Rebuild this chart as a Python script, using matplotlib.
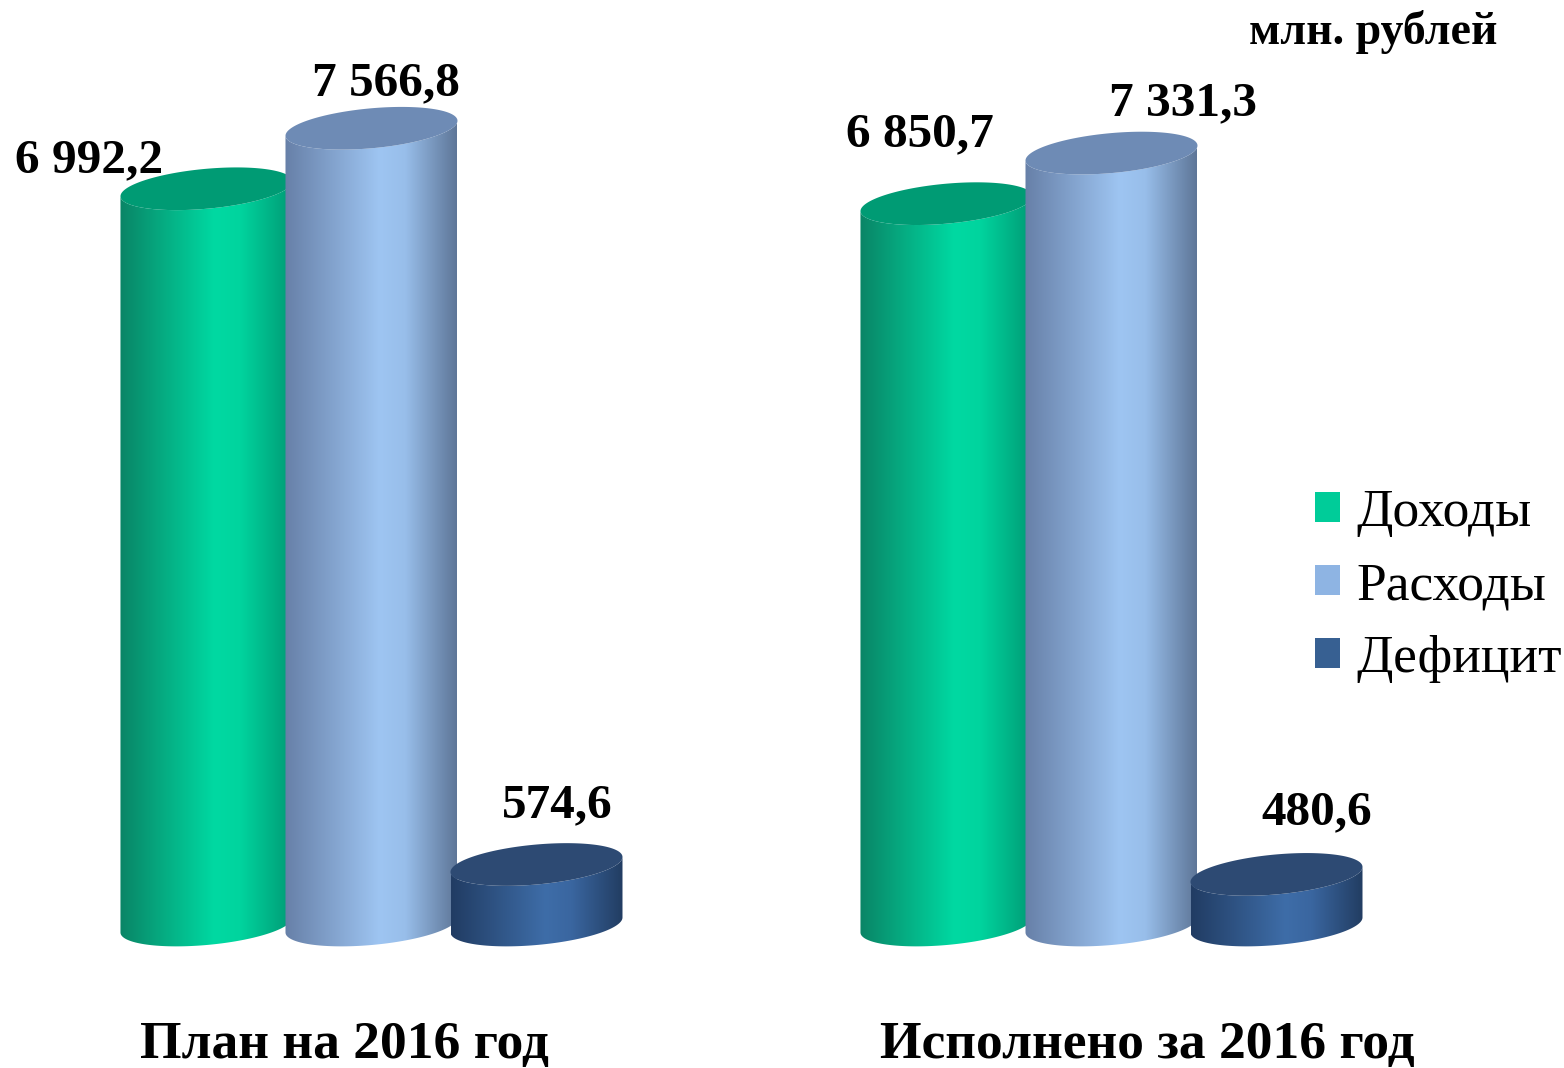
import numpy as np
import matplotlib
matplotlib.use("Agg")
import matplotlib.pyplot as plt
from matplotlib.path import Path
from matplotlib.patches import PathPatch, Patch
from matplotlib.colors import LinearSegmentedColormap
import matplotlib.transforms as mtransforms

# ---------------- data ----------------
categories = ["План на 2016 год", "Исполнено за 2016 год"]
series = ["Доходы", "Расходы", "Дефицит"]
dohody = [6992.2, 6850.7]
rashody = [7566.8, 7331.3]
deficit = [574.6, 480.6]
value_labels = [["6 992,2", "7 566,8", "574,6"],
                ["6 850,7", "7 331,3", "480,6"]]
unit_label = "млн. рублей"

# ---------------- style ----------------
legend_colors = ["#00CC99", "#8EB4E3", "#376092"]
body_grad = [
    ["#0A8566", "#00D9A2", "#00D49E", "#009B75"],
    ["#6780A8", "#9EC5F2", "#98BEEA", "#5E7698"],
    ["#213C63", "#3E6DA8", "#3A66A0", "#223D62"],
]
top_colors = ["#009B74", "#6E8BB5", "#2D4A73"]

W_PX, H_PX = 1564, 1068
fig = plt.figure(figsize=(W_PX / 100, H_PX / 100), dpi=100)
ax = fig.add_axes([0, 0, 1, 1])
XL = (-0.502, 1.6115)
YL = (-1358, 8785)
ax.set_xlim(*XL)
ax.set_ylim(*YL)
ax.axis("off")

px_x = W_PX / (XL[1] - XL[0])      # pixels per x unit
px_y = H_PX / (YL[1] - YL[0])      # pixels per y unit

bar_w = 0.2324
bar_off = 0.223
b_px = 20.0                 # ellipse semi minor axis in px
slope_px = 0.087            # tilt (px up per px right)
b = b_px / px_y
shear = slope_px * px_x / px_y   # y units per x unit

values = [dohody, rashody, deficit]


def ellipse_pts(cx, yc, a, t):
    x = cx + a * np.cos(t)
    y = yc + b * np.sin(t) + shear * (a * np.cos(t))
    return x, y


def cylinder(cx, height, k, z):
    a = bar_w / 2
    t_bot = np.linspace(np.pi, 2 * np.pi, 80)
    xb, yb = ellipse_pts(cx, 0, a, t_bot)
    t_top = np.linspace(2 * np.pi, np.pi, 80)
    xt, yt = ellipse_pts(cx, height, a, t_top)
    xs = np.concatenate([xb, xt, [xb[0]]])
    ys = np.concatenate([yb, yt, [yb[0]]])
    verts = np.column_stack([xs, ys])
    codes = [Path.MOVETO] + [Path.LINETO] * (len(verts) - 2) + [Path.CLOSEPOLY]
    body = PathPatch(Path(verts, codes), transform=ax.transData,
                     facecolor="none", edgecolor="none")
    cmap = LinearSegmentedColormap.from_list(
        "g%d" % k, list(zip([0, 0.55, 0.7, 1.0], body_grad[k])))
    grad = np.linspace(0, 1, 256)[None, :]
    ext = [cx - a, cx + a, -b - shear * a - 50, height + b + shear * a + 50]
    im = ax.imshow(grad, cmap=cmap, extent=ext, aspect="auto",
                   interpolation="bilinear", zorder=z)
    im.set_clip_path(body)
    t = np.linspace(0, 2 * np.pi, 200)
    xe, ye = ellipse_pts(cx, height, a, t)
    ax.fill(xe, ye, color=top_colors[k], zorder=z + 0.5, lw=0)


label_dx_px = [[-117, 14, 21], [-27, 72, 40]]
label_dy_px = [[16, 33, 47], [57, 38, 50]]

for g in range(len(categories)):
    for k in range(3):
        cx = g + (k - 1) * bar_off
        v = values[k][g]
        cylinder(cx, v, k, z=2 + k)
        ax.text(cx + label_dx_px[g][k] / px_x, v + label_dy_px[g][k] / px_y,
                value_labels[g][k], ha="center", va="baseline",
                fontsize=35.5, fontweight="bold", family="Liberation Serif",
                zorder=10)

ax.set_xlim(*XL)
ax.set_ylim(*YL)

trans = mtransforms.blended_transform_factory(ax.transData, fig.transFigure)
cat_dx = [-0.036, 0.048]
for g, c in enumerate(categories):
    ax.text(g + cat_dx[g], 1 - 1058 / H_PX, c, transform=trans,
            ha="center", va="baseline", fontsize=38.5, fontweight="bold",
            family="Liberation Serif")

fig.text(1373 / W_PX, 1 - 44 / H_PX, unit_label, ha="center", va="baseline",
         fontsize=33, fontweight="bold", family="Liberation Serif")

handles = [Patch(facecolor=c, edgecolor="none") for c in legend_colors]
leg = fig.legend(handles, series, loc="center left",
                 bbox_to_anchor=(1315 / W_PX, 1 - 586 / H_PX),
                 frameon=False, prop={"family": "Liberation Serif", "size": 38.5},
                 handlelength=0.47, handleheight=0.47, handletextpad=0.3,
                 labelspacing=0.47, borderpad=0, borderaxespad=0)

fig.savefig("out.png", dpi=100)
